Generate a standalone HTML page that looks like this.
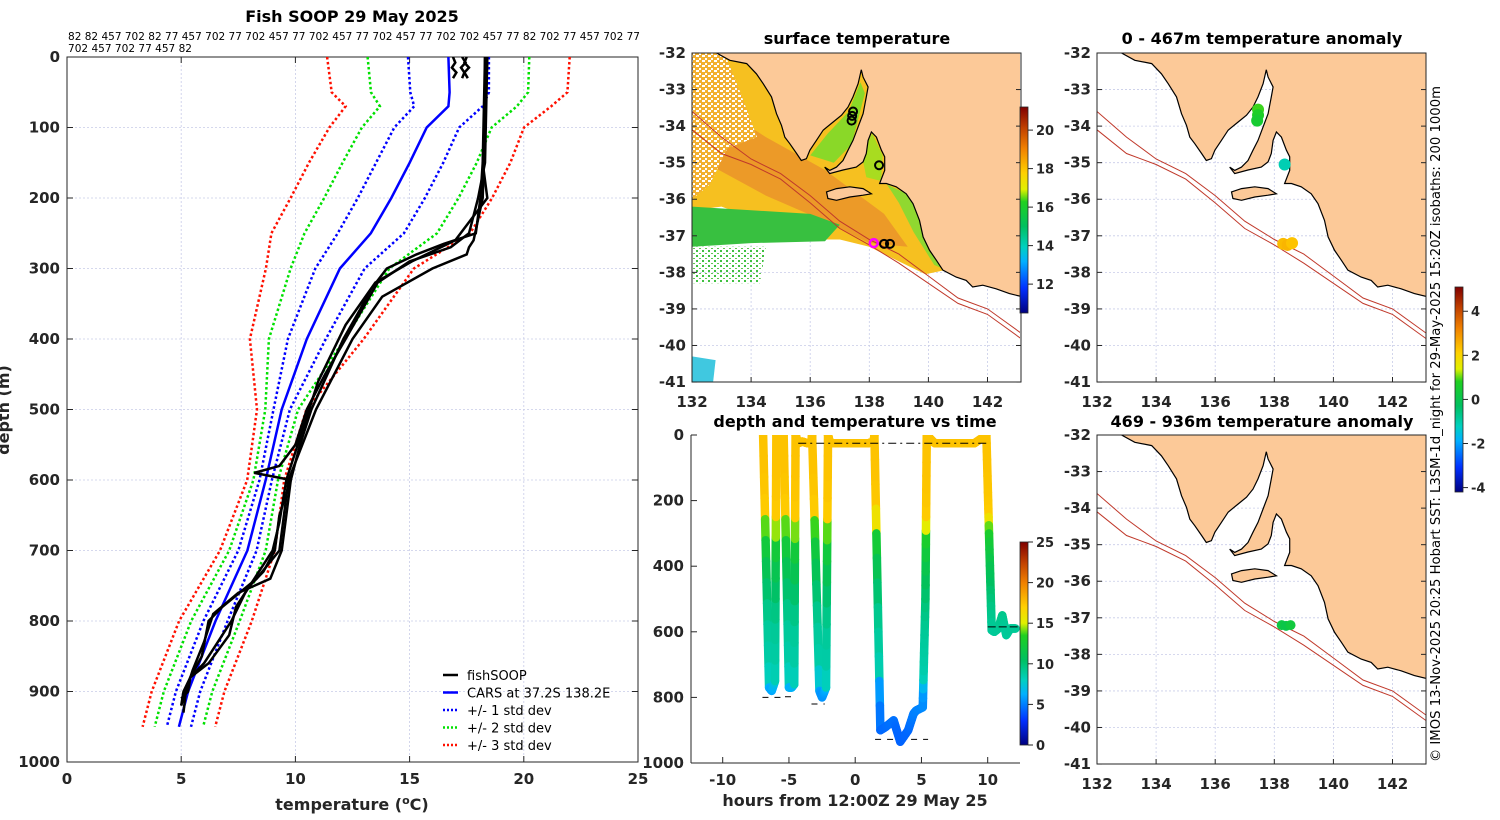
<!DOCTYPE html>
<html><head><meta charset="utf-8"><style>
html,body{margin:0;padding:0;background:#fff;}
svg{display:block;font-family:"DejaVu Sans","Liberation Sans",sans-serif;}
.tk{font-size:15px;font-weight:bold;fill:#262626;}
.ttl{font-size:16px;font-weight:bold;fill:#000;}
</style></head><body>
<svg id="fig" width="1500" height="820" viewBox="0 0 1500 820" xmlns="http://www.w3.org/2000/svg">
<defs>
<linearGradient id="cmap" x1="0" y1="1" x2="0" y2="0">
<stop offset="0" stop-color="#000080"/><stop offset="0.12" stop-color="#0030ff"/><stop offset="0.25" stop-color="#00b0ff"/><stop offset="0.32" stop-color="#00d0c0"/><stop offset="0.42" stop-color="#00c060"/><stop offset="0.54" stop-color="#20d020"/><stop offset="0.6" stop-color="#e0f000"/><stop offset="0.68" stop-color="#ffd000"/><stop offset="0.8" stop-color="#f08000"/><stop offset="0.9" stop-color="#c04000"/><stop offset="1" stop-color="#800000"/>
</linearGradient>
<pattern id="speck" width="6" height="5" patternUnits="userSpaceOnUse"><rect width="6" height="5" fill="#f2b030"/><rect x="0" y="0" width="3" height="2" fill="#fff"/><rect x="3" y="3" width="2" height="2" fill="#fff"/></pattern>
<pattern id="gspeck" width="6" height="5" patternUnits="userSpaceOnUse"><rect x="0" y="0" width="2" height="2" fill="#40c040"/><rect x="3" y="3" width="2" height="1" fill="#60c850"/></pattern>
<clipPath id="c1"><rect x="67" y="57" width="571" height="705"/></clipPath>
<clipPath id="cm1"><rect x="692" y="53" width="328" height="329"/></clipPath>
<clipPath id="cm2"><rect x="1097" y="53" width="329" height="329"/></clipPath>
<clipPath id="cm3"><rect x="1097" y="435" width="329" height="328"/></clipPath>
<clipPath id="ct"><rect x="691" y="435" width="329" height="328"/></clipPath>
</defs>
<g id="root"></g>
</svg>
<script>
// ---------- DATA ----------
const carsDepth=[0,50,70,100,150,200,250,300,400,500,600,700,800,900,950];
const carsMean=[16.7,16.75,16.7,15.75,15.0,14.2,13.3,11.95,10.5,9.4,8.7,7.9,6.5,5.3,4.9];
const carsStd=[1.77,1.72,1.5,1.42,1.47,1.47,1.45,1.08,0.83,0.36,0.27,0.4,0.53,0.53,0.53];
const fishDepthA=[0,100,150,200,250,265,280,300,330,360,400,450,500,550,600,650,700,740,760,790,830,870,900,930];
const fishTempA=[18.3,18.3,18.2,18.1,17.9,16.5,15.3,14.0,13.3,12.8,12.1,11.4,10.7,10.2,9.8,9.6,9.4,8.9,7.5,6.4,6.0,5.5,5.2,5.1];
const fishDepthB=[0,150,200,250,270,290,320,360,400,450,500,550,580,590,600,650,700,730,750,780,820,860,880,900,920];
const fishTempB=[18.4,18.3,18.0,17.6,16.8,15.0,13.6,12.9,12.2,11.3,10.5,10.0,9.3,8.2,9.8,9.3,9.1,8.6,8.0,7.4,7.1,6.2,5.4,5.1,5.0];
const fishDepthC=[0,200,260,270,280,300,340,400,500,600,700,740,780,800,850,880,920];
const fishTempC=[18.4,18.2,17.8,17.6,17.5,16.0,13.8,12.5,10.9,9.7,9.3,8.3,6.8,6.2,5.9,5.4,5.0];
const fishDepthD=[0,150,200,260,290,320,380,460,540,600,660,700,760,800,840,860,880,900,910];
const fishTempD=[18.3,18.2,18.4,17.0,15.1,13.5,12.2,11.0,10.2,9.6,9.3,9.0,7.8,7.2,6.4,6.0,5.4,5.3,5.0];
const fishDepthS=[0,8,15,22,30];
const fishTempS1=[16.9,17.0,16.85,17.05,16.9];
const fishTempS2=[17.3,17.45,17.25,17.4,17.3];
const fishTempS3=[17.5,17.4,17.6,17.4,17.55];
const tHours=[-6.95,-6.5,-6.3,-6.05,-5.95,-5.4,-5.0,-4.8,-4.6,-4.5,-4.3,-4.0,-3.6,-3.3,-3.25,-2.7,-2.5,-2.2,-2.05,-1.9,-1.0,0,1.0,1.4,1.45,1.9,2.3,2.9,3.4,4.0,4.4,4.6,5.1,5.3,5.4,6,7,8,9,9.9,10.1,10.3,10.5,10.8,11.1,11.4,11.7,12.1];
const tDepth=[0,770,780,750,0,0,770,770,760,0,25,20,25,20,0,780,800,770,0,25,25,25,25,20,0,900,890,870,935,900,850,840,830,500,0,25,25,25,25,0,300,595,600,590,550,610,590,590];
const topLabels1="82 82 457 702 82 77 457 702 77 702 457 77 702 457 77 702 457 77 702 702 457 77 82 702 77 457 702 77";
const topLabels2="702 457 702 77 457 82";
const coast=[[132.83,-32.0],[133.28,-32.2],[133.85,-32.29],[134.18,-32.57],[134.41,-32.84],[134.69,-33.2],[134.86,-33.66],[135.03,-33.98],[135.14,-34.3],[135.31,-34.48],[135.54,-34.75],[135.7,-34.94],[135.87,-34.89],[135.99,-34.66],[136.21,-34.39],[136.44,-34.11],[136.77,-33.89],[137.06,-33.7],[137.28,-33.48],[137.45,-33.2],[137.62,-32.84],[137.73,-32.46],[137.79,-32.66],[137.96,-32.93],[137.9,-33.2],[137.79,-33.66],[137.62,-34.02],[137.45,-34.39],[137.28,-34.66],[137.11,-34.94],[136.89,-35.12],[136.66,-35.21],[136.49,-35.12],[136.66,-35.3],[137.11,-35.2],[137.56,-35.12],[137.79,-34.98],[137.9,-34.75],[137.96,-34.39],[138.07,-34.16],[138.24,-34.3],[138.41,-34.66],[138.52,-34.84],[138.52,-35.21],[138.35,-35.57],[138.58,-35.57],[138.91,-35.66],[139.25,-35.85],[139.48,-36.12],[139.7,-36.58],[139.82,-37.03],[140.04,-37.4],[140.27,-37.67],[140.49,-37.94],[140.94,-38.13],[141.28,-38.22],[141.5,-38.4],[141.84,-38.35],[142.29,-38.45],[142.74,-38.58],[143.2,-38.67],[143.2,-31.8],[132.83,-31.8]];
const kangaroo=[[136.55,-35.8],[136.89,-35.71],[137.34,-35.66],[137.79,-35.71],[138.07,-35.85],[137.79,-35.89],[137.34,-35.94],[136.89,-36.03],[136.6,-35.98]];
const iso200=[[132,-33.6],[133,-34.3],[134,-34.9],[135,-35.3],[136,-35.9],[137,-36.6],[138,-37.1],[139,-37.5],[140,-38.1],[141,-38.7],[142,-39.0],[143.2,-39.7]];
const iso1000=[[132,-34.1],[133,-34.75],[134,-35.05],[135,-35.45],[136,-36.1],[137,-36.8],[138,-37.25],[139,-37.75],[140,-38.3],[141,-38.85],[142,-39.15],[143.2,-39.85]];
const sstWarm=[[132,-31.8],[143.2,-31.8],[143.2,-38.5],[141.5,-38.3],[141,-38.1],[140.5,-37.95],[139.9,-38.05],[139,-37.7],[138,-37.3],[137,-37.1],[136,-37.1],[135,-36.9],[134,-36.5],[133,-36.2],[132,-36.3]];
const sstCloud=[[132,-31.8],[133.0,-31.8],[133.6,-33.0],[134.2,-34.3],[133.2,-34.6],[132.6,-35.6],[132,-36.0]];
const sstCore=[[132,-33.0],[134.5,-34.3],[136.5,-35.2],[138.5,-36.4],[139.3,-37.3],[138,-37.2],[136.5,-36.6],[134.5,-35.9],[132,-34.8]];
const sstGreen=[[132,-36.2],[134,-36.3],[136,-36.4],[137,-36.7],[136.5,-37.15],[134,-37.2],[132,-37.3]];
const sstGreenSpeck=[[132,-37.3],[134.5,-37.3],[134.3,-38.3],[132,-38.3]];
const sstSpencer=[[136.0,-34.8],[136.6,-34.2],[137.3,-33.6],[137.7,-32.8],[137.85,-33.1],[137.4,-34.5],[136.8,-35.0]];
const sstGulfSV=[[137.95,-34.4],[138.1,-34.2],[138.45,-34.8],[138.4,-35.5],[137.9,-35.4],[137.8,-35.0]];
const sstCoastE=[[138.6,-35.6],[139.4,-35.9],[139.9,-36.8],[140.5,-37.9],[140.2,-37.8],[139.5,-36.9],[139.0,-36.1]];
const sstCyan=[[132,-40.3],[132.8,-40.4],[132.7,-41.1],[132,-41.1]];
const sstMarkLon=[137.45,137.42,137.4,138.33,138.5,138.7];
const sstMarkLat=[-33.6,-33.72,-33.85,-35.07,-37.22,-37.22];
const anomTopLon=[137.45,137.45,137.42,138.35,138.3,138.45,138.6];
const anomTopLat=[-33.55,-33.7,-33.85,-35.05,-37.22,-37.25,-37.2];
const anomTopVal=[0.9,0.7,0.5,-1.1,2.4,2.5,2.3];
const anomBotLon=[138.25,138.4,138.55];
const anomBotLat=[-37.2,-37.22,-37.2];
const anomBotVal=[0.2,0.1,0.3];

// ---------- helpers ----------
const NS="http://www.w3.org/2000/svg";
const root=document.getElementById('root');
function el(tag,attrs,parent,text){const e=document.createElementNS(NS,tag);for(const k in attrs)e.setAttribute(k,attrs[k]);if(text!==undefined)e.textContent=text;(parent||root).appendChild(e);return e;}
const cstops=[[0,[0,0,128]],[0.12,[0,48,255]],[0.25,[0,176,255]],[0.32,[0,208,192]],[0.42,[0,192,96]],[0.54,[32,208,32]],[0.6,[224,240,0]],[0.68,[255,208,0]],[0.8,[240,128,0]],[0.9,[192,64,0]],[1,[128,0,0]]];
function cmap(f){f=Math.max(0,Math.min(1,f));for(let i=1;i<cstops.length;i++){if(f<=cstops[i][0]){const a=cstops[i-1],b=cstops[i];const t=(f-a[0])/(b[0]-a[0]);const c=a[1].map((v,j)=>Math.round(v+(b[1][j]-v)*t));return `rgb(${c[0]},${c[1]},${c[2]})`;}}return 'rgb(128,0,0)';}
function interp(xs,ys,x){if(x<=xs[0])return ys[0];for(let i=1;i<xs.length;i++){if(x<=xs[i]){const t=(x-xs[i-1])/(xs[i]-xs[i-1]);return ys[i-1]+t*(ys[i]-ys[i-1]);}}return ys[ys.length-1];}

// ---------- Panel 1: profiles ----------
const px=t=>67+t*571/25, py=d=>57+d*705/1000;
const g1=el('g',{});


for(let t=5;t<25;t+=5)el('line',{x1:px(t),x2:px(t),y1:57,y2:762,stroke:'#c8cce8','stroke-width':0.8,'stroke-dasharray':'2,2'},g1);
for(let d=100;d<1000;d+=100)el('line',{x1:67,x2:638,y1:py(d),y2:py(d),stroke:'#c8cce8','stroke-width':0.8,'stroke-dasharray':'2,2'},g1);
el('rect',{x:67,y:57,width:571,height:705,fill:'none',stroke:'#262626','stroke-width':1},g1);
for(let t=0;t<=25;t+=5){el('line',{x1:px(t),x2:px(t),y1:57,y2:63,stroke:'#262626'},g1);el('line',{x1:px(t),x2:px(t),y1:762,y2:756,stroke:'#262626'},g1);
 const tl=el('text',{x:px(t),y:784,'text-anchor':'middle',class:'tk'},g1,String(t));}
for(let d=0;d<=1000;d+=100){el('line',{x1:67,x2:73,y1:py(d),y2:py(d),stroke:'#262626'},g1);el('line',{x1:638,x2:632,y1:py(d),y2:py(d),stroke:'#262626'},g1);
 const tl=el('text',{x:60,y:py(d)+5,'text-anchor':'end',class:'tk'},g1,String(d));}
const pt=el('text',{x:352,y:22,'text-anchor':'middle',class:'ttl'},g1,'Fish SOOP 29 May 2025');
const tl1=el('text',{x:68,y:40,'font-size':'11','fill':'#000',textLength:572,lengthAdjust:'spacingAndGlyphs'},g1,topLabels1);
const tl2=el('text',{x:68,y:52,'font-size':'11','fill':'#000',textLength:124,lengthAdjust:'spacingAndGlyphs'},g1,topLabels2);
const xl=el('text',{x:352,y:810,'text-anchor':'middle','font-size':'16','font-weight':'bold',fill:'#262626'},g1);

xl.innerHTML='temperature (<tspan dy="-6" font-size="11">o</tspan><tspan dy="6">C)</tspan>';
const yl=el('text',{x:0,y:0,transform:'translate(9,410) rotate(-90)','text-anchor':'middle','font-size':'16','font-weight':'bold',fill:'#262626'},g1,'depth (m)');

const pl=el('g',{'clip-path':'url(#c1)'},g1);
function polyl(xs,ys,fx,fy,attrs,parent,name){const pts=xs.map((x,i)=>fx(x).toFixed(1)+','+fy(ys[i]).toFixed(1)).join(' ');const p=el('polyline',Object.assign({points:pts,fill:'none'},attrs),parent);return p;}
const sdCols=['#0000ff','#00e000','#ff1000'];
for(let k=3;k>=1;k--){
 for(const s of[-1,1]){polyl(carsDepth.map((d,i)=>carsMean[i]+s*k*carsStd[i]),carsDepth,px,py,{stroke:sdCols[k-1],'stroke-width':2.5,'stroke-dasharray':'2.5,2.5'},pl,'cars-std-'+k+(s<0?'-low':'-high'));}
}
polyl(carsMean,carsDepth,px,py,{stroke:'#0000ff','stroke-width':2.5},pl,'cars-mean-line');
const fishSets=[[fishTempA,fishDepthA],[fishTempB,fishDepthB],[fishTempC,fishDepthC],[fishTempD,fishDepthD],[fishTempS1,fishDepthS],[fishTempS2,fishDepthS],[fishTempS3,fishDepthS]];
fishSets.forEach((f,i)=>polyl(f[0],f[1],px,py,{stroke:'#000','stroke-width':2.5},pl,'fishsoop-profile-'+(i+1)));
const leg=el('g',{},g1);
const legItems=[['fishSOOP','#000',''],['CARS at 37.2S 138.2E','#0000ff',''],['+/- 1 std dev','#0000ff','2,2'],['+/- 2 std dev','#00e000','2,2'],['+/- 3 std dev','#ff1000','2,2']];
legItems.forEach((it,i)=>{const y=675+i*17.5;const ge=el('g',{},leg);
 el('line',{x1:443,x2:458,y1:y,y2:y,stroke:it[1],'stroke-width':2.5,'stroke-dasharray':it[2]||'none'},ge);
 el('text',{x:467,y:y+5,'font-size':'13',fill:'#000'},ge,it[0]);});

// ---------- map helpers ----------
function mapPanel(x0,y0,name,clip,title,ty,showXlabels){
 const lx=lon=>x0+(lon-132)*29.55, ly=lat=>y0+(-32-lat)*36.56;
 const g=el('g',{});
 return {g,lx,ly,x0,y0,clip,title,ty,showXlabels};
}
function poly(m,pts,attrs,parent,name){const p=el('polygon',Object.assign({points:pts.map(q=>m.lx(q[0]).toFixed(1)+','+m.ly(q[1]).toFixed(1)).join(' ')},attrs),parent);return p;}
function pline(m,pts,attrs,parent,name){const p=el('polyline',Object.assign({fill:'none',points:pts.map(q=>m.lx(q[0]).toFixed(1)+','+m.ly(q[1]).toFixed(1)).join(' ')},attrs),parent);return p;}
function mapBase(m,sst){
 const c=el('g',{'clip-path':'url(#'+m.clip+')'},m.g);
 el('rect',{x:m.x0,y:m.y0,width:330,height:330,fill:'#fff'},c);
 for(let lon=134;lon<=142;lon+=2)el('line',{x1:m.lx(lon),x2:m.lx(lon),y1:m.y0,y2:m.y0+330,stroke:'#c8cce8','stroke-width':0.8,'stroke-dasharray':'2,2'},c);
 for(let lat=-33;lat>=-40;lat--)el('line',{x1:m.x0,x2:m.x0+330,y1:m.ly(lat),y2:m.ly(lat),stroke:'#c8cce8','stroke-width':0.8,'stroke-dasharray':'2,2'},c);
 if(sst){
  poly(m,sstWarm,{fill:'#f6c020'},c,'sst-warm-water');
  poly(m,sstCore,{fill:'#ec9a28'},c,'sst-warm-core');
  poly(m,sstCloud,{fill:'url(#speck)'},c,'sst-cloud-speckle');
  poly(m,sstGreen,{fill:'#38c040'},c,'sst-cool-patch');
  poly(m,sstGreenSpeck,{fill:'url(#gspeck)'},c,'sst-cool-speckle');
  poly(m,sstSpencer,{fill:'#8ad828'},c,'sst-spencer-gulf');
  poly(m,sstGulfSV,{fill:'#a8dc20'},c,'sst-gulf-st-vincent');
  poly(m,sstCoastE,{fill:'#90d830'},c,'sst-coastal-band');
  poly(m,sstCyan,{fill:'#40c8e0'},c,'sst-cold-patch');
 }
 poly(m,coast,{fill:'#fcc998',stroke:'#000','stroke-width':1.2},c,'land');
 poly(m,kangaroo,{fill:'#fcc998',stroke:'#000','stroke-width':1.2},c,'kangaroo-island');
 el('rect',{x:m.lx(132.9),y:m.y0-3,width:330,height:3.5,fill:'#fcc998'},c);
 pline(m,iso200,{stroke:'#c0392b','stroke-width':1},c,'isobath-200');
 pline(m,iso1000,{stroke:'#c0392b','stroke-width':1},c,'isobath-1000');
 el('rect',{x:m.x0,y:m.y0,width:329,height:329,fill:'none',stroke:'#262626','stroke-width':1},m.g);
 for(let lat=-32;lat>=-41;lat--){const y=m.ly(lat);el('line',{x1:m.x0,x2:m.x0+5,y1:y,y2:y,stroke:'#262626'},m.g);el('line',{x1:m.x0+329,x2:m.x0+324,y1:y,y2:y,stroke:'#262626'},m.g);
  const t=el('text',{x:m.x0-6,y:y+5,'text-anchor':'end',class:'tk'},m.g,String(lat));}
 for(let lon=132;lon<=142;lon+=2){const x=m.lx(lon);el('line',{x1:x,x2:x,y1:m.y0+329,y2:m.y0+324,stroke:'#262626'},m.g);
  if(m.showXlabels){const t=el('text',{x:x,y:m.y0+354,'text-anchor':'middle',class:'tk'},m.g,String(lon));}}
 const tt=el('text',{x:m.x0+165,y:m.ty,'text-anchor':'middle',class:'ttl'},m.g,m.title);
 return c;
}
function colorbar(x,y1,y2,vmin,vmax,ticks,name){
 const g=el('g',{});
 el('rect',{x:x,y:y1,width:8,height:y2-y1,fill:'url(#cmap)',stroke:'#262626','stroke-width':0.8},g);
 ticks.forEach(v=>{const y=y2-(v-vmin)/(vmax-vmin)*(y2-y1);el('line',{x1:x+8,x2:x+13,y1:y,y2:y,stroke:'#262626'},g);
  const t=el('text',{x:x+16,y:y+5,class:'tk'},g,String(v));t.setAttribute('font-size','13');t.setAttribute('style','font-size:13px');});
 return g;
}

// SST map
const m1=mapPanel(692,53,'sst-map','cm1','surface temperature',44,true);
const c1=mapBase(m1,true);
sstMarkLon.forEach((lon,i)=>{const c=el('circle',{cx:m1.lx(lon),cy:m1.ly(sstMarkLat[i]),r:4,fill:'none',stroke:'#000','stroke-width':2},c1);});
const mg=el('circle',{cx:m1.lx(138.15),cy:m1.ly(-37.2),r:4,fill:'none',stroke:'#ff00ff','stroke-width':2.5},c1);
colorbar(1020,107,313,10.5,21.2,[12,14,16,18,20],'sst-colorbar');

// Anomaly maps
const m2=mapPanel(1097,53,'anomaly-map-top','cm2','0 - 467m temperature anomaly',44,true);
const c2=mapBase(m2,false);
anomTopLon.forEach((lon,i)=>{const c=el('circle',{cx:m2.lx(lon),cy:m2.ly(anomTopLat[i]),r:6,fill:cmap((anomTopVal[i]+4.2)/9.3)},c2);});
const m3=mapPanel(1097,435,'anomaly-map-bottom','cm3','469 - 936m temperature anomaly',427,true);
const c3=mapBase(m3,false);
anomBotLon.forEach((lon,i)=>{const c=el('circle',{cx:m3.lx(lon),cy:m3.ly(anomBotLat[i]),r:5,fill:cmap((anomBotVal[i]+4.2)/9.3)},c3);});
colorbar(1455,287,492,-4.2,5.1,[4,2,0,-2,-4],'anomaly-colorbar');

// ---------- Time panel ----------
const tx=h=>722.7+(h+10)*13.25, ty=d=>435+d*0.328;
const gt=el('g',{});
const ctg=el('g',{'clip-path':'url(#ct)'},gt);
[[-7,-5.6,800],[-5.3,-4.5,798],[-3.3,-2.3,820],[1.5,5.5,928]].forEach(b=>el('line',{x1:tx(b[0]),x2:tx(b[1]),y1:ty(b[2]),y2:ty(b[2]),stroke:'#000','stroke-width':1,'stroke-dasharray':'6,6'},ctg));
for(let i=1;i<tHours.length;i++){
 const n=12;
 for(let k=0;k<n;k++){
  const a=k/n,b=(k+1)/n;
  const h1=tHours[i-1]+(tHours[i]-tHours[i-1])*a,h2=tHours[i-1]+(tHours[i]-tHours[i-1])*b;
  const d1=tDepth[i-1]+(tDepth[i]-tDepth[i-1])*a,d2=tDepth[i-1]+(tDepth[i]-tDepth[i-1])*b;
  const T=interp(fishDepthA,fishTempA,(d1+d2)/2)-0.8;
  const s=el('line',{x1:tx(h1),y1:ty(d1),x2:tx(h2),y2:ty(d2),stroke:cmap(T/25),'stroke-width':8.5,'stroke-linecap':'round'},ctg);
  
  
 }
}
el('line',{x1:tx(-4.3),x2:tx(10),y1:ty(25),y2:ty(25),stroke:'#000','stroke-width':1,'stroke-dasharray':'8,4,2,4'},ctg);
el('line',{x1:tx(10),x2:tx(12.5),y1:ty(585),y2:ty(585),stroke:'#000','stroke-width':1,'stroke-dasharray':'8,3'},ctg);
el('rect',{x:1020,y:436,width:4,height:326,fill:'#fff'},gt);
el('line',{x1:691,x2:691,y1:435,y2:763,stroke:'#262626'},gt);el('line',{x1:691,x2:1020,y1:763,y2:763,stroke:'#262626'},gt);
for(let h=-10;h<=10;h+=5){el('line',{x1:tx(h),x2:tx(h),y1:763,y2:757,stroke:'#262626'},gt);const t=el('text',{x:tx(h),y:785,'text-anchor':'middle',class:'tk'},gt,String(h));}
for(let d=0;d<=1000;d+=200){el('line',{x1:691,x2:697,y1:ty(d),y2:ty(d),stroke:'#262626'},gt);const t=el('text',{x:684,y:ty(d)+5,'text-anchor':'end',class:'tk'},gt,String(d));}
const tt2=el('text',{x:855,y:427,'text-anchor':'middle',class:'ttl'},gt,'depth and temperature vs time');
const txl=el('text',{x:855,y:806,'text-anchor':'middle','font-size':'16','font-weight':'bold',fill:'#262626'},gt,'hours from 12:00Z 29 May 25');
colorbar(1020,542,745,0,25,[0,5,10,15,20,25],'temperature-colorbar');

// credit text
const cr=el('text',{x:0,y:0,transform:'translate(1440,762) rotate(-90)','font-size':'13.5',fill:'#000',textLength:676,lengthAdjust:'spacingAndGlyphs'},root,'© IMOS 13-Nov-2025 20:25 Hobart SST: L3SM-1d_night for 29-May-2025 15:20Z isobaths: 200  1000m');

</script>
</body></html>
